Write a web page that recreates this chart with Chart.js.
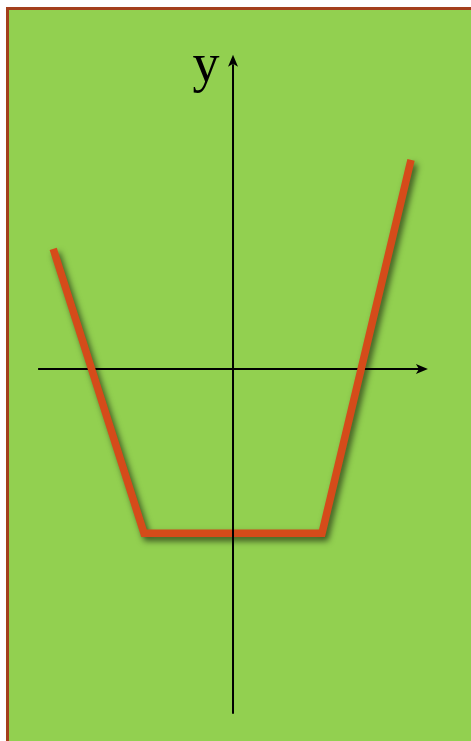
<!DOCTYPE html>
<html>
<head>
<meta charset="utf-8">
<script src="https://cdn.jsdelivr.net/npm/chart.js@4"></script>
<style>
  html, body { margin: 0; padding: 0; background: #fff; overflow: hidden; }
  .panel { position: absolute; left: 6px; top: 7px; width: 480px; height: 760px; background: #92d050; border-left: 3px solid #a33f1c; border-top: 3px solid #a33f1c; }
  .wrap { position: absolute; left: 0; top: 0; width: 471px; height: 741px; }
</style>
</head>
<body>
<div class="panel"></div>
<div class="wrap"><canvas id="chart" width="471" height="741"></canvas></div>
<script>
// piecewise line: x and y values
const xValues = [-4.04, -2, 2, 4];
const yValues = [2.7, -3.69, -3.69, 4.7];
const axisLabel = "y";

const points = xValues.map((x, i) => ({ x, y: yValues[i] }));

function arrow(ctx, x, y, dir) {
  // dir: "right" or "up"; notched arrow head ending at (x, y)
  ctx.save();
  ctx.translate(x, y);
  if (dir === "up") ctx.rotate(-Math.PI / 2);
  ctx.beginPath();
  ctx.moveTo(0, 0);
  ctx.lineTo(-12, -5);
  ctx.lineTo(-9, 0);
  ctx.lineTo(-12, 5);
  ctx.closePath();
  ctx.fillStyle = "#000";
  ctx.fill();
  ctx.restore();
}

const axesPlugin = {
  id: "axes",
  beforeDatasetsDraw(chart) {
    const { ctx, scales: { x, y } } = chart;
    const y0 = y.getPixelForValue(0);
    ctx.save();
    ctx.strokeStyle = "#000";
    ctx.lineWidth = 2;
    ctx.beginPath();
    ctx.moveTo(x.getPixelForValue(-4.38), y0);
    ctx.lineTo(x.getPixelForValue(4.2), y0);
    ctx.stroke();
    arrow(ctx, x.getPixelForValue(4.38), y0, "right");
    ctx.restore();
  },
  beforeDatasetDraw(chart) {
    const ctx = chart.ctx;
    ctx.save();
    ctx.shadowColor = "rgba(0,0,0,0.6)";
    ctx.shadowBlur = 6;
    ctx.shadowOffsetX = 3;
    ctx.shadowOffsetY = 4;
  },
  afterDatasetDraw(chart) {
    chart.ctx.restore();
  },
  afterDatasetsDraw(chart) {
    const { ctx, scales: { x, y } } = chart;
    const x0 = x.getPixelForValue(0);
    ctx.save();
    ctx.strokeStyle = "#000";
    ctx.lineWidth = 2;
    ctx.beginPath();
    ctx.moveTo(x0, y.getPixelForValue(-7.75));
    ctx.lineTo(x0, y.getPixelForValue(6.85));
    ctx.stroke();
    arrow(ctx, x0, y.getPixelForValue(7.06), "up");
    ctx.fillStyle = "#000";
    ctx.font = '54px "Liberation Serif", "Times New Roman", serif';
    ctx.textAlign = "center";
    ctx.textBaseline = "alphabetic";
    ctx.fillText(axisLabel, x0 - 27, y.getPixelForValue(6.48));
    ctx.restore();
  }
};

new Chart(document.getElementById("chart"), {
  type: "line",
  data: {
    datasets: [{
      data: points,
      borderColor: "#d54b1a",
      borderWidth: 7.5,
      borderCapStyle: "butt",
      borderJoinStyle: "miter",
      pointRadius: 0,
      tension: 0,
      fill: false
    }]
  },
  options: {
    responsive: false,
    animation: false,
    layout: { padding: 0 },
    plugins: { legend: { display: false }, tooltip: { enabled: false } },
    scales: {
      x: { type: "linear", display: false, min: -5.236, max: 5.348 },
      y: { type: "linear", display: false, min: -8.36, max: 8.292 }
    }
  },
  plugins: [axesPlugin]
});
</script>
</body>
</html>
